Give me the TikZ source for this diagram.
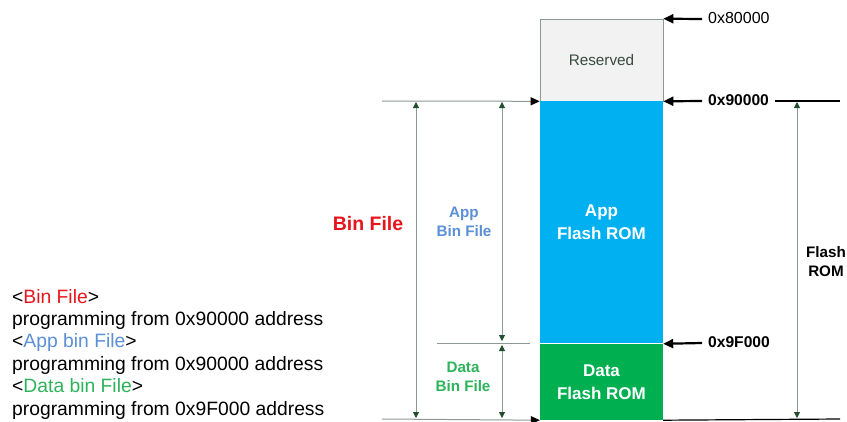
\documentclass[tikz,border=0pt]{standalone}
\usepackage{fontspec}
\setmainfont{Liberation Sans}
\usetikzlibrary{arrows.meta}
\definecolor{appblue}{HTML}{00B0F0}
\definecolor{datagreen}{HTML}{00B050}
\definecolor{resgray}{HTML}{F2F2F2}
\definecolor{resborder}{HTML}{8A9A90}
\definecolor{dimline}{HTML}{8C9A92}
\definecolor{dimtip}{HTML}{1F4E2C}
\definecolor{binred}{HTML}{E8141B}
\definecolor{appbluetxt}{HTML}{5B8FD6}
\definecolor{datagreentxt}{HTML}{2DB35A}
\definecolor{restxt}{HTML}{3A4A40}
\tikzset{
  block/.style={minimum width=123pt, inner sep=0pt, align=center, text=white, font=\bfseries\fontsize{17}{23}\selectfont},
  bigarrow/.style={-{Triangle[length=10pt,width=9pt]}, line width=2.2pt, black},
  guide/.style={dimline, line width=0.8pt},
  dimarrow/.style={{Triangle[length=6pt,width=6pt]}-{Triangle[length=6pt,width=6pt]}, dimline, line width=0.8pt, arrows={[color=dimtip]}},
  addr/.style={anchor=west, inner sep=0pt, font=\fontsize{16}{18}\selectfont},
  lbl/.style={align=center, inner sep=0pt, font=\bfseries\fontsize{15.2}{19}\selectfont},
}
\begin{document}
\begin{tikzpicture}[x=1pt,y=-1pt]
\useasboundingbox (0,0) rectangle (847,421);
% memory blocks
\node[block, fill=resgray, draw=resborder, line width=0.6pt, minimum height=82pt, text=restxt, font=\fontsize{15.3}{18}\selectfont] (res) at (601.5,60) {Reserved};
\node[block, fill=appblue, minimum height=242pt] (app) at (601.5,222) {App\\Flash ROM};
\node[block, fill=datagreen, minimum height=76pt] (data) at (601.5,382) {Data\\Flash ROM};
% address arrows
\coordinate (a80) at (702,19);
\coordinate (a90) at (702,101);
\coordinate (a9F) at (702,343);
\draw[bigarrow] (a80) -- (res.north east);
\draw[bigarrow] (a90) -- (res.south east);
\draw[bigarrow] (a9F) -- (data.north east);
\node[addr] (t80) at (708,18) {0x80000};
\node[addr, font=\bfseries\fontsize{15.6}{18}\selectfont] (t90) at (708,100) {0x90000};
\node[addr, font=\bfseries\fontsize{15.6}{18}\selectfont] (t9F) at (708,342) {0x9F000};
% right lines
\coordinate (r90s) at (775,101);
\coordinate (r90) at (840,101);
\coordinate (rbot) at (840,419);
\draw[black, line width=1.2pt] (r90s) -- (r90);
\draw[black, line width=1.2pt] (data.south east) -- (rbot);
% left guide lines
\coordinate (lt) at (382,101);
\coordinate (lb) at (382,419);
\coordinate (lm) at (437,343);
\coordinate (lmE) at (530,343);
\draw[dimline, line width=1pt, -{Triangle[length=9pt,width=8pt,color=black]}] (lt) -- (res.south west);
\draw[dimline, line width=1pt, -{Triangle[length=9pt,width=8pt,color=black]}] (lb) -- (data.south west);
\draw[guide] (lm) -- (lmE);
% dimension arrows
\coordinate (b1) at (416,102);
\coordinate (b2) at (416,418);
\coordinate (c1) at (502,102);
\coordinate (c2) at (502,341);
\coordinate (c3) at (502,345);
\coordinate (c4) at (502,418);
\coordinate (f1) at (797,102);
\coordinate (f2) at (797,418);
\draw[dimarrow] (b1) -- (b2);
\draw[dimarrow] (c1) -- (c2);
\draw[dimarrow] (c3) -- (c4);
\draw[dimarrow] (f1) -- (f2);
% labels
\node[lbl, text=binred, font=\bfseries\fontsize{19.5}{22}\selectfont] (lbin) at (368,224) {Bin File};
\node[lbl, text=appbluetxt] (lapp) at (464,222) {App\\Bin File};
\node[lbl, text=datagreentxt] (ldata) at (463,377) {Data\\Bin File};
\node[lbl, text=black] (lflash) at (826,262) {Flash\\ROM};
% left text
\node[anchor=north west, align=left, inner sep=0pt, font=\fontsize{19.3}{22.4}\selectfont] (notes) at (12,289) {%
<\textcolor{binred}{Bin File}>\\
programming from 0x90000 address\\
<\textcolor{appbluetxt}{App bin File}>\\
programming from 0x90000 address\\
<\textcolor{datagreentxt}{Data bin File}>\\
programming from 0x9F000 address};
\end{tikzpicture}
\end{document}
